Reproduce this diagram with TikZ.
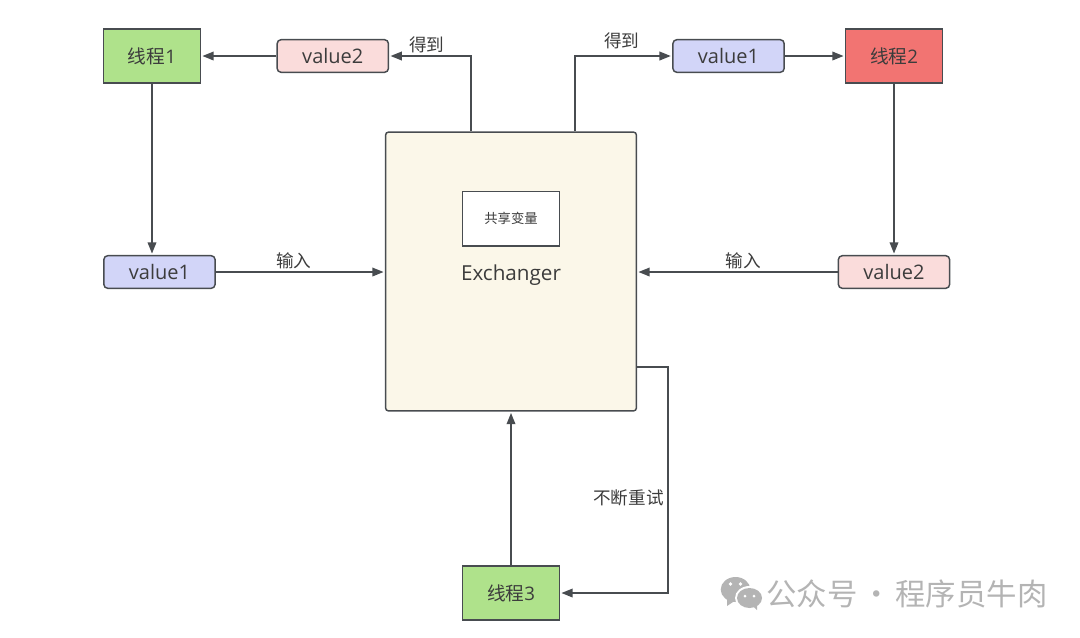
\documentclass[tikz,border=0pt]{standalone}
\usepackage{fontspec}
\setmainfont{Open Sans}
\newfontfamily\cjk{Noto Sans CJK SC}
\usepackage{xcolor}
\definecolor{linegray}{HTML}{484C50}
\definecolor{textgray}{HTML}{3C3C3C}
\definecolor{threadgreen}{HTML}{AFE28B}
\definecolor{threadred}{HTML}{F27472}
\definecolor{valblue}{HTML}{D2D5F8}
\definecolor{valpink}{HTML}{FADCDB}
\definecolor{cream}{HTML}{FBF7E9}
\definecolor{markgray}{HTML}{B4B4B4}
\usetikzlibrary{positioning,arrows.meta}

\begin{document}
\begin{tikzpicture}[
  x=0.75pt,y=-0.75pt,
  threadbox/.style={rectangle,minimum width=72.5pt,minimum height=40.5pt,
    draw=linegray,line width=1.1pt,fill=threadgreen,inner sep=0pt,
    text=textgray,font=\fontsize{14pt}{16pt}\selectfont,align=center},
  valbox/.style={rectangle,rounded corners=3pt,minimum width=83.5pt,
    minimum height=24.5pt,draw=linegray,line width=1.1pt,inner sep=0pt,
    text=textgray,font=\fontsize{15pt}{18pt}\selectfont,align=center},
  exbox/.style={rectangle,rounded corners=2pt,minimum width=188pt,
    minimum height=209pt,draw=linegray,line width=1.1pt,fill=cream},
  varbox/.style={rectangle,minimum width=72.5pt,minimum height=41pt,
    draw=linegray,line width=1.1pt,fill=white,inner sep=0pt,
    text=textgray,font=\fontsize{10pt}{12pt}\selectfont\cjk},
  arr/.style={-{Triangle[length=8.5pt,width=6.5pt]},color=linegray,
    line width=1.2pt,shorten >=1pt},
  lbl/.style={font=\fontsize{13.2pt}{15pt}\selectfont\cjk,text=textgray,inner sep=0pt}
]
  \useasboundingbox (0,0) rectangle (1080,637);

  \node[exbox] (ex) at (511,271.5) {};
  \node[varbox,below=44.5pt of ex.north] (var) {共享变量};
  \node[below=13pt of var,inner sep=0pt,text=textgray,
    font=\fontsize{15.5pt}{18pt}\selectfont] (exname) {Exchanger};

  \node[threadbox] (th1) at (152,56) {{\cjk 线程}1};
  \node[valbox,fill=valpink,right=56.5pt of th1] (getb) {value2};
  \node[valbox,fill=valblue,below=128.4pt of th1,xshift=5.6pt] (puta) {value1};

  \node[threadbox,fill=threadred] (th2) at (894,56) {{\cjk 线程}2};
  \node[valbox,fill=valblue,left=45pt of th2] (geta) {value1};
  \node[valbox,fill=valpink,below=128.4pt of th2] (putb) {value2};

  \node[threadbox] (th3) at (511,593) {{\cjk 线程}3};

  \coordinate (exl) at ([xshift=-30pt]ex.north);
  \coordinate (exr) at ([xshift=48pt]ex.north);
  \coordinate (exs) at ([yshift=-71.6pt]ex.east);

  \draw[arr] (getb) -- (th1);
  \draw[arr] (geta) -- (th2);
  \draw[arr] (exl) |- node[lbl,pos=0.77,above=1.5pt] (lblgetb) {得到} (getb);
  \draw[arr] (exr) |- node[lbl,pos=0.74,above=5pt] (lblgeta) {得到} (geta);
  \draw[arr] (th1) -- (th1 |- puta.north);
  \draw[arr] (th2) -- (putb);
  \draw[arr] (puta) -- node[lbl,pos=0.46,above=2pt] (lblputa) {输入} (puta -| ex.west);
  \draw[arr] (putb) -- node[lbl,pos=0.47,above=2pt] (lblputb) {输入} (putb -| ex.east);
  \draw[arr] (th3) -- (th3 |- ex.south);
  \draw[arr] (exs) -- ++(30.67,0) |- node[lbl,pos=0.29,left=2.5pt] (lblretry) {不断重试} (th3);

  % watermark
  \fill[markgray] (735.5,589.5) ellipse (14.8 and 12.5);
  \fill[markgray] (727,598) -- (727,606) -- (736,600) -- cycle;
  \fill[white] (749.5,598) ellipse (14.5 and 12);
  \fill[markgray] (749.5,598) ellipse (12.5 and 10);
  \fill[markgray] (752,605) -- (757,610) -- (757,603) -- cycle;
  \fill[white] (730.5,584) circle (1.8) (740.5,584) circle (1.8)
    (745,596) circle (1.5) (754,596) circle (1.5);
  \node[font=\fontsize{22.8pt}{26pt}\selectfont\cjk,text=markgray,inner sep=0pt]
    (mark) at (907,594) {公众号\hspace{0.12em}·\hspace{0.12em}程序员牛肉};
\end{tikzpicture}
\end{document}
